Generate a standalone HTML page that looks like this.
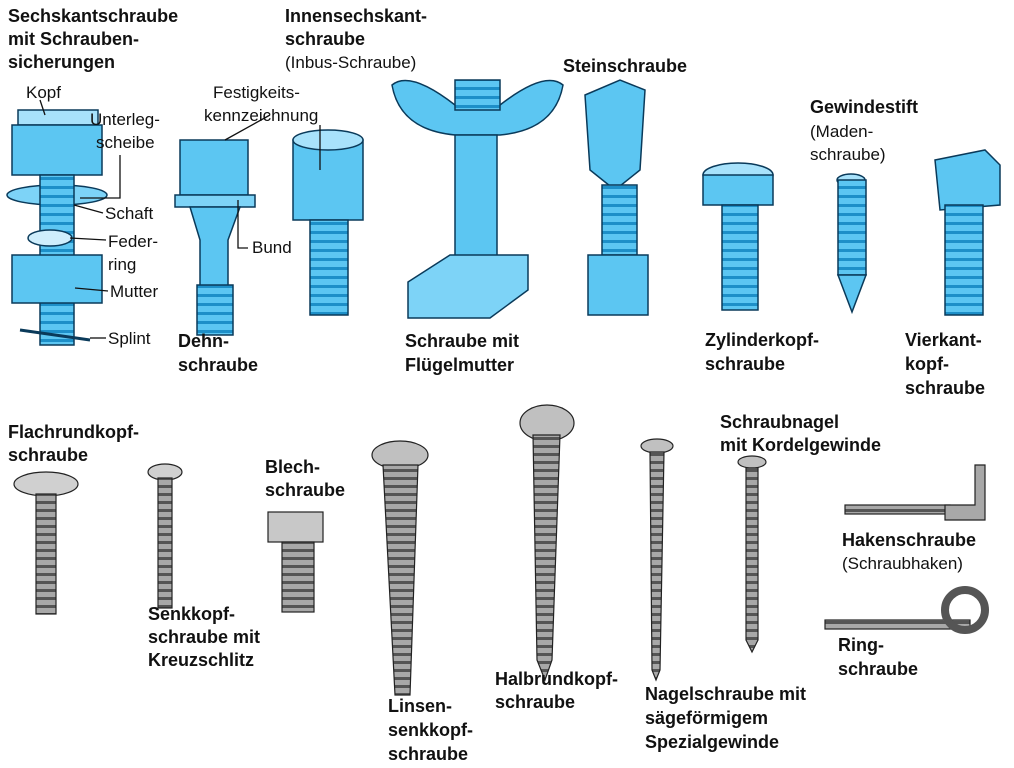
<!DOCTYPE html>
<html><head><meta charset="utf-8"><style>
html,body{margin:0;padding:0;background:#fff;}
svg{display:block}
text{font-family:"Liberation Sans",sans-serif;fill:#111;}
.b{font-weight:bold;font-size:18px}
.n{font-size:17px}
</style></head><body>
<svg width="1014" height="768" viewBox="0 0 1014 768" xmlns="http://www.w3.org/2000/svg">
<defs>
<pattern id="th" width="10" height="9" patternUnits="userSpaceOnUse"><rect width="10" height="9" fill="#5cc6f2"/><rect y="6" width="10" height="3" fill="#1d8fc8"/></pattern>
<pattern id="tg" width="10" height="8" patternUnits="userSpaceOnUse"><rect width="10" height="8" fill="#a8a8a8"/><rect y="5" width="10" height="3" fill="#555"/></pattern>
</defs>
<g stroke="#0a3a5a" stroke-width="1.5">
<!-- Sechskant -->
<rect x="18" y="110" width="80" height="15" fill="#a8e2fb"/>
<rect x="12" y="125" width="90" height="50" fill="#5cc6f2"/>
<ellipse cx="57" cy="195" rx="50" ry="10" fill="#7dd3f7"/>
<rect x="40" y="175" width="34" height="170" fill="url(#th)"/>
<ellipse cx="50" cy="238" rx="22" ry="8" fill="#cfeefc"/>
<rect x="12" y="255" width="90" height="48" fill="#5cc6f2"/>
<path d="M20 330 L90 340" stroke-width="3" fill="none"/>
<!-- Dehn -->
<rect x="180" y="140" width="68" height="55" fill="#5cc6f2"/>
<rect x="175" y="195" width="80" height="12" fill="#7dd3f7"/>
<path d="M190 207 L240 207 L228 240 L228 290 L200 290 L200 240 Z" fill="#5cc6f2"/>
<rect x="197" y="285" width="36" height="50" fill="url(#th)"/>
<!-- Inbus -->
<rect x="293" y="140" width="70" height="80" fill="#5cc6f2"/>
<ellipse cx="328" cy="140" rx="35" ry="10" fill="#a8e2fb"/>
<rect x="310" y="220" width="38" height="95" fill="url(#th)"/>
<!-- Fluegel -->
<path d="M392 85 Q410 70 455 105 L500 105 Q545 70 563 85 Q555 130 500 135 L455 135 Q400 130 392 85Z" fill="#5cc6f2"/>
<rect x="455" y="80" width="45" height="30" fill="url(#th)"/>
<rect x="455" y="135" width="42" height="130" fill="#5cc6f2"/>
<path d="M408 282 L450 255 L528 255 L528 290 L490 318 L408 318Z" fill="#7dd3f7"/>
<!-- Stein -->
<path d="M585 95 L620 80 L645 90 L640 170 L615 190 L590 170Z" fill="#5cc6f2"/>
<rect x="602" y="185" width="35" height="70" fill="url(#th)"/>
<rect x="588" y="255" width="60" height="60" fill="#5cc6f2"/>
<!-- Zylinder -->
<ellipse cx="738" cy="175" rx="35" ry="12" fill="#a8e2fb"/>
<rect x="703" y="175" width="70" height="30" fill="#5cc6f2"/>
<rect x="722" y="205" width="36" height="105" fill="url(#th)"/>
<!-- Gewindestift -->
<ellipse cx="851" cy="180" rx="14" ry="6" fill="#a8e2fb"/>
<rect x="838" y="180" width="28" height="95" fill="url(#th)"/>
<path d="M838 275 L866 275 L852 312Z" fill="#5cc6f2"/>
<!-- Vierkant -->
<path d="M935 160 L985 150 L1000 165 L1000 205 L940 210Z" fill="#5cc6f2"/>
<rect x="945" y="205" width="38" height="110" fill="url(#th)"/>
</g>
<g stroke="#111" stroke-width="1.3" fill="none">
<path d="M40 100 L45 115"/>
<path d="M120 155 L120 198 L80 198"/>
<path d="M103 213 L74 205"/>
<path d="M106 240 L70 238"/>
<path d="M108 291 L75 288"/>
<path d="M106 338 L90 338"/>
<path d="M270 115 L225 140"/>
<path d="M320 125 L320 170"/>
<path d="M248 248 L238 248 L238 200"/>
</g>
<g stroke="#222" stroke-width="1.2">
<ellipse cx="46" cy="484" rx="32" ry="12" fill="#d0d0d0"/>
<rect x="36" y="494" width="20" height="120" fill="url(#tg)"/>
<ellipse cx="165" cy="472" rx="17" ry="8" fill="#d0d0d0"/>
<rect x="158" y="478" width="14" height="130" fill="url(#tg)"/>
<rect x="268" y="512" width="55" height="30" fill="#c8c8c8"/>
<rect x="282" y="542" width="32" height="70" fill="url(#tg)"/>
<ellipse cx="400" cy="455" rx="28" ry="14" fill="#c0c0c0"/>
<path d="M383 465 L418 465 L410 695 L395 695Z" fill="url(#tg)"/>
<ellipse cx="547" cy="423" rx="27" ry="18" fill="#c0c0c0"/>
<path d="M533 435 L560 435 L552 660 L545 680 L537 660Z" fill="url(#tg)"/>
<ellipse cx="657" cy="446" rx="16" ry="7" fill="#c0c0c0"/>
<path d="M650 452 L664 452 L660 670 L656 680 L652 670Z" fill="url(#tg)"/>
<ellipse cx="752" cy="462" rx="14" ry="6" fill="#c0c0c0"/>
<path d="M746 468 L758 468 L758 640 L752 652 L746 640Z" fill="url(#tg)"/>
<rect x="845" y="505" width="105" height="9" fill="url(#tg)"/>
<path d="M945 505 L975 505 L975 465 L985 465 L985 520 L945 520Z" fill="#a8a8a8"/>
<rect x="825" y="620" width="145" height="9" fill="url(#tg)"/>
<circle cx="965" cy="610" r="20" fill="none" stroke="#555" stroke-width="8"/>
</g>
<text class="b" x="8" y="22">Sechskantschraube</text>
<text class="b" x="8" y="45">mit Schrauben-</text>
<text class="b" x="8" y="68">sicherungen</text>
<text class="n" x="26" y="98">Kopf</text>
<text class="n" x="90" y="125">Unterleg-</text>
<text class="n" x="96" y="148">scheibe</text>
<text class="n" x="105" y="219">Schaft</text>
<text class="n" x="108" y="247">Feder-</text>
<text class="n" x="108" y="270">ring</text>
<text class="n" x="110" y="297">Mutter</text>
<text class="n" x="108" y="344">Splint</text>
<text class="n" x="213" y="98">Festigkeits-</text>
<text class="n" x="204" y="121">kennzeichnung</text>
<text class="n" x="252" y="253">Bund</text>
<text class="b" x="178" y="347">Dehn-</text>
<text class="b" x="178" y="371">schraube</text>
<text class="b" x="285" y="22">Innensechskant-</text>
<text class="b" x="285" y="45">schraube</text>
<text class="n" x="285" y="68">(Inbus-Schraube)</text>
<text class="b" x="563" y="72">Steinschraube</text>
<text class="b" x="810" y="113">Gewindestift</text>
<text class="n" x="810" y="137">(Maden-</text>
<text class="n" x="810" y="160">schraube)</text>
<text class="b" x="405" y="347">Schraube mit</text>
<text class="b" x="405" y="371">Flügelmutter</text>
<text class="b" x="705" y="346">Zylinderkopf-</text>
<text class="b" x="705" y="370">schraube</text>
<text class="b" x="905" y="346">Vierkant-</text>
<text class="b" x="905" y="370">kopf-</text>
<text class="b" x="905" y="394">schraube</text>
<text class="b" x="8" y="438">Flachrundkopf-</text>
<text class="b" x="8" y="461">schraube</text>
<text class="b" x="265" y="473">Blech-</text>
<text class="b" x="265" y="496">schraube</text>
<text class="b" x="720" y="428">Schraubnagel</text>
<text class="b" x="720" y="451">mit Kordelgewinde</text>
<text class="b" x="842" y="546">Hakenschraube</text>
<text class="n" x="842" y="569">(Schraubhaken)</text>
<text class="b" x="148" y="620">Senkkopf-</text>
<text class="b" x="148" y="643">schraube mit</text>
<text class="b" x="148" y="666">Kreuzschlitz</text>
<text class="b" x="838" y="651">Ring-</text>
<text class="b" x="838" y="675">schraube</text>
<text class="b" x="495" y="685">Halbrundkopf-</text>
<text class="b" x="495" y="708">schraube</text>
<text class="b" x="388" y="712">Linsen-</text>
<text class="b" x="388" y="736">senkkopf-</text>
<text class="b" x="388" y="760">schraube</text>
<text class="b" x="645" y="700">Nagelschraube mit</text>
<text class="b" x="645" y="724">sägeförmigem</text>
<text class="b" x="645" y="748">Spezialgewinde</text>
</svg>
</body></html>
